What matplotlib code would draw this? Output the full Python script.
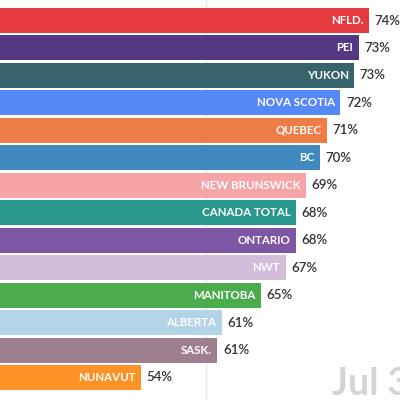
import matplotlib.pyplot as plt

regions = ["NFLD.", "PEI", "YUKON", "NOVA SCOTIA", "QUEBEC", "BC", "NEW BRUNSWICK",
           "CANADA TOTAL", "ONTARIO", "NWT", "MANITOBA", "ALBERTA", "SASK.", "NUNAVUT"]
values = [74.3, 73.4, 73.0, 71.8, 70.6, 70.0, 68.8, 67.9, 67.9, 67.0, 64.8, 61.4, 61.0, 54.3]
colors = ["#e63a41", "#553883", "#37636c", "#5688f7", "#ed7c47", "#4088c0", "#f6a5a6",
          "#2a978c", "#7f56a4", "#d4bcdb", "#4aac4d", "#b3d4e7", "#9e7f90", "#fd9227"]
date_label = "Jul 3"

fig = plt.figure(figsize=(4, 4), dpi=100)
ax = fig.add_axes([0, 0, 1, 1])
# axis is cropped like the original animation: bars start off the left edge
ax.set_xlim(41.93, 77.02)
ax.set_ylim(13.82, -0.747)
ax.axis("off")

ax.axvline(60, color="#e6e6e6", lw=1, zorder=0)

pos = list(range(len(regions)))
ax.barh(pos, values, height=0.91, color=colors, zorder=1)

for i, (name, v) in enumerate(zip(regions, values)):
    ax.annotate(name, (v, i), xytext=(-4, 0), textcoords="offset points",
                ha="right", va="center", color="white", fontsize=8.3,
                family="Lato", fontweight="bold", zorder=2)
    ax.annotate(f"{v:.0f}%", (v, i), xytext=(4, 0), textcoords="offset points",
                ha="left", va="center", color="#333333", fontsize=9.5,
                family="Lato", fontweight="semibold", zorder=2)

fig.text(332 / 400, 5 / 400, date_label, ha="left", va="baseline", fontsize=27,
         fontweight="bold", family="Lato", color="#d4d4d4")

fig.savefig("out.png")
